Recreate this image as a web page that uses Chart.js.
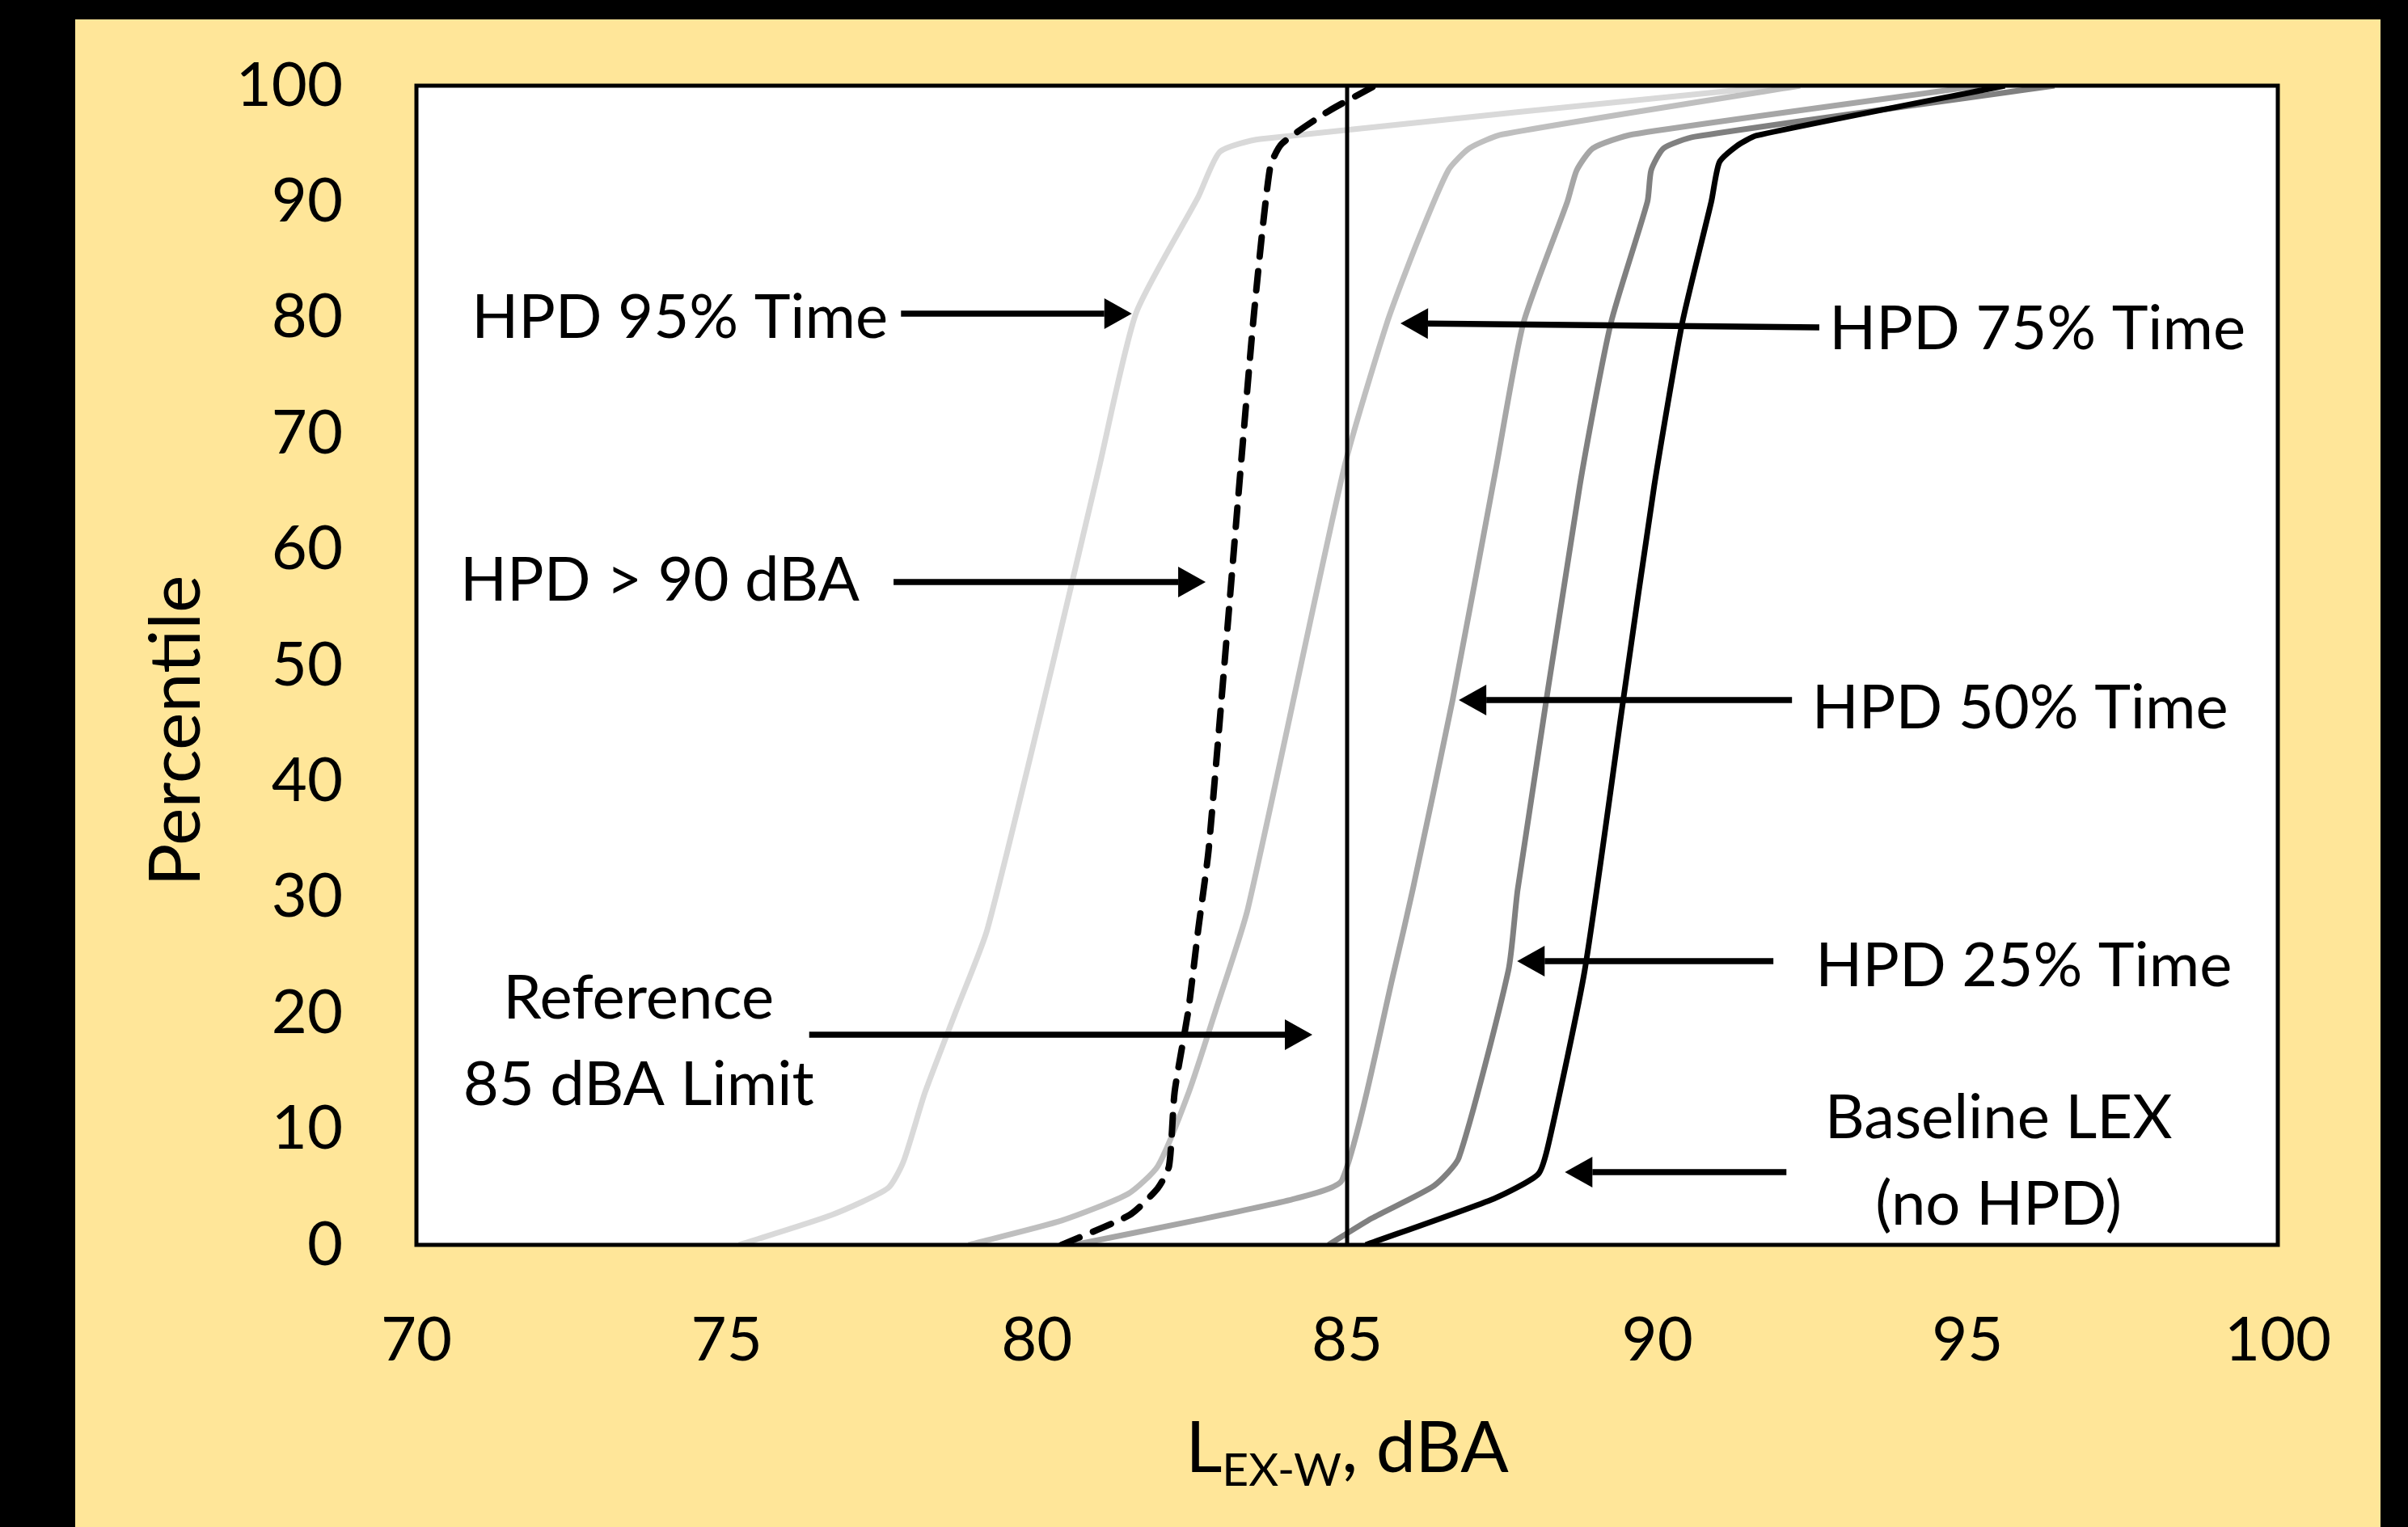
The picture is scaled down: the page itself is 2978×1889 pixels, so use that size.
<!DOCTYPE html>
<html>
<head>
<meta charset="utf-8">
<title>LEX-W percentiles with and without HPD</title>
<script src="https://cdn.jsdelivr.net/npm/chart.js@4.4.1/dist/chart.umd.min.js"></script>
<style>
  html, body { margin: 0; padding: 0; background: #000; }
  canvas { display: block; }
</style>
</head>
<body>
<canvas id="myChart" width="2978" height="1889"></canvas>
<script>
'use strict';

// data (x = LEX-W in dBA, y = percentile)

var xTicks = [70, 75, 80, 85, 90, 95, 100];
var yTicks = [0, 10, 20, 30, 40, 50, 60, 70, 80, 90, 100];

var refLimitX = [85, 85];
var refLimitY = [0, 100];

var baselineX = [85.3, 87.37, 88.08, 88.25, 88.83, 89.45, 89.95, 90.4, 90.87, 91.0, 91.28, 91.6, 95.6];
var baselineY = [0, 4.0, 6.1, 8.8, 23.7, 47, 65.5, 79.5, 90.0, 93.4, 94.8, 95.7, 100];

var hpd25X = [84.7, 85.4, 86.4, 86.8, 87.6, 87.75, 88.75, 89.25, 89.84, 89.9, 90.1, 90.6, 96.4];
var hpd25Y = [0, 2.3, 5.1, 7.5, 23.7, 30.7, 65.5, 79.5, 90.0, 92.7, 94.6, 95.6, 100];

var hpd50X = [80.6, 82.55, 84.17, 84.92, 85.76, 86.06, 86.7, 87.4, 87.84, 88.55, 88.7, 88.96, 89.6, 95.2];
var hpd50Y = [0, 2.1, 4.0, 5.6, 23.7, 30.7, 47, 67, 79.5, 90.0, 92.7, 94.6, 95.8, 100];

var hpd75X = [78.9, 80.4, 81.47, 81.95, 82.45, 82.88, 83.4, 84.95, 85.64, 86.13, 86.63, 86.97, 87.5, 92.3];
var hpd75Y = [0, 2.1, 4.4, 6.8, 13.2, 20.2, 29, 67, 79.5, 86.5, 92.7, 94.6, 95.8, 100];

var hpd95X = [75.2, 76.7, 77.6, 77.85, 78.2, 78.7, 79.2, 80.25, 81.0, 81.6, 82.6, 82.95, 83.6, 92.0];
var hpd95Y = [0, 2.6, 4.9, 7.2, 13.2, 20.2, 27.2, 50, 67, 80.4, 90.4, 94.3, 95.4, 100];

var over90X = [80.4, 81.5, 81.95, 82.13, 82.22, 82.44, 82.6, 82.77, 83.3, 83.5, 83.76, 83.95, 84.7, 85.45];
var over90Y = [0, 2.6, 4.9, 6.8, 13.2, 20.2, 27.2, 34.2, 68, 80.4, 93.0, 95.0, 97.8, 100];

// callouts (positions in axis units)
var notes = [
  { lines: ['HPD 95% Time'], x: 77.6, y: 78.24, align: 'right', from: [77.81, 80.33], to: [81.53, 80.33] },
  { lines: ['HPD > 90 dBA'], x: 77.14, y: 55.58, align: 'right', from: [77.69, 57.18], to: [82.72, 57.18] },
  { lines: ['Reference', '85 dBA Limit'], x: 73.58, y: 19.53, align: 'center', from: [76.33, 18.13], to: [84.44, 18.13] },
  { lines: ['HPD 75% Time'], x: 92.77, y: 77.27, align: 'left', from: [92.61, 79.15], to: [85.86, 79.5] },
  { lines: ['HPD 50% Time'], x: 92.49, y: 44.56, align: 'left', from: [92.17, 47.0], to: [86.8, 47.0] },
  { lines: ['HPD 25% Time'], x: 92.55, y: 22.32, align: 'left', from: [91.87, 24.48], to: [87.74, 24.48] },
  { lines: ['Baseline LEX', '(no HPD)'], x: 95.5, y: 9.2, align: 'center', from: [92.08, 6.28], to: [88.51, 6.28] }
];

var FONT = 'Lato';

function toPoints(xs, ys) {
  var pts = [];
  for (var i = 0; i < xs.length; i++) {
    pts.push({ x: xs[i], y: ys[i] });
  }
  return pts;
}

function curve(label, xs, ys, color, width, dash) {
  return {
    label: label,
    data: toPoints(xs, ys),
    showLine: true,
    borderColor: color,
    borderWidth: width,
    borderDash: dash || [],
    borderCapStyle: dash ? 'round' : 'butt',
    borderJoinStyle: 'round',
    tension: 0.2,
    pointRadius: 0,
    pointHoverRadius: 0
  };
}

// background, yellow panel and white plot area
var panelPlugin = {
  id: 'panel',
  beforeDraw: function(chart) {
    var c = chart.ctx;
    var a = chart.chartArea;
    c.save();
    c.fillStyle = '#000';
    c.fillRect(0, 0, chart.width, chart.height);
    c.fillStyle = '#ffe699';
    c.fillRect(93, 24, 2851, chart.height - 24);
    c.fillStyle = '#fff';
    c.fillRect(a.left, a.top, a.right - a.left, a.bottom - a.top);
    c.restore();
  }
};

function drawArrow(c, x1, y1, x2, y2) {
  var ang = Math.atan2(y2 - y1, x2 - x1);
  var head = 34;
  var half = 19;
  var bx = x2 - head * Math.cos(ang);
  var by = y2 - head * Math.sin(ang);
  c.beginPath();
  c.moveTo(x1, y1);
  c.lineTo(bx, by);
  c.lineWidth = 7.5;
  c.stroke();
  c.beginPath();
  c.moveTo(x2, y2);
  c.lineTo(bx + half * Math.sin(ang), by - half * Math.cos(ang));
  c.lineTo(bx - half * Math.sin(ang), by + half * Math.cos(ang));
  c.closePath();
  c.fill();
}

// frame on top of the curves, then the callouts
var calloutPlugin = {
  id: 'callouts',
  afterDatasetsDraw: function(chart) {
    var c = chart.ctx;
    var a = chart.chartArea;
    var xs = chart.scales.x;
    var ys = chart.scales.y;
    c.save();
    c.strokeStyle = '#000';
    c.lineWidth = 5;
    c.strokeRect(a.left, a.top, a.right - a.left, a.bottom - a.top);

    c.fillStyle = '#000';
    c.font = '76px ' + FONT;
    c.textBaseline = 'alphabetic';
    notes.forEach(function(n) {
      c.textAlign = n.align;
      var px = xs.getPixelForValue(n.x);
      var py = ys.getPixelForValue(n.y);
      for (var i = 0; i < n.lines.length; i++) {
        c.fillText(n.lines[i], px, py + i * 107);
      }
      drawArrow(c,
        xs.getPixelForValue(n.from[0]), ys.getPixelForValue(n.from[1]),
        xs.getPixelForValue(n.to[0]), ys.getPixelForValue(n.to[1]));
    });
    c.restore();
  },
  afterDraw: function(chart) {
    var c = chart.ctx;
    var a = chart.chartArea;
    c.save();
    c.fillStyle = '#000';
    c.textBaseline = 'alphabetic';

    // y title
    c.translate(247, 904);
    c.rotate(-Math.PI / 2);
    c.textAlign = 'center';
    c.font = '88px ' + FONT;
    c.fillText('Percentile', 0, 0);
    c.setTransform(1, 0, 0, 1, 0, 0);

    // x title with subscript
    var big = '88px ' + FONT;
    var small = '57px ' + FONT;
    c.font = big;
    var wL = c.measureText('L').width;
    var wRest = c.measureText(', dBA').width;
    c.font = small;
    var wSub = c.measureText('EX-W').width;
    var x0 = (a.left + a.right) / 2 - (wL + wSub + wRest) / 2;
    var base = 1821;
    c.textAlign = 'left';
    c.font = big;
    c.fillText('L', x0, base);
    c.font = small;
    c.fillText('EX-W', x0 + wL, base + 17);
    c.font = big;
    c.fillText(', dBA', x0 + wL + wSub, base);
    c.restore();
  }
};

var ctx = document.getElementById('myChart').getContext('2d');

var chart = new Chart(ctx, {
  type: 'scatter',
  data: {
    datasets: [
      curve('Baseline LEX (no HPD)', baselineX, baselineY, '#000000', 7),
      curve('HPD > 90 dBA', over90X, over90Y, '#000000', 8, [24, 18]),
      curve('Reference 85 dBA Limit', refLimitX, refLimitY, '#000000', 5),
      curve('HPD 25% Time', hpd25X, hpd25Y, '#808080', 7),
      curve('HPD 50% Time', hpd50X, hpd50Y, '#a6a6a6', 7),
      curve('HPD 75% Time', hpd75X, hpd75Y, '#bfbfbf', 7),
      curve('HPD 95% Time', hpd95X, hpd95Y, '#d9d9d9', 7)
    ]
  },
  options: {
    responsive: false,
    animation: false,
    events: [],
    layout: { padding: { left: 0, top: 106, right: 161, bottom: 0 } },
    scales: {
      x: {
        type: 'linear',
        min: 70,
        max: 100,
        grid: { display: false },
        border: { display: false },
        ticks: { color: '#000', font: { family: FONT, size: 76 }, padding: 65, maxRotation: 0 },
        afterBuildTicks: function(scale) {
          scale.ticks = xTicks.map(function(v) { return { value: v }; });
        },
        afterFit: function(scale) { scale.height = 349; }
      },
      y: {
        type: 'linear',
        min: 0,
        max: 100,
        grid: { display: false },
        border: { display: false },
        ticks: { color: '#000', font: { family: FONT, size: 76 }, padding: 83 },
        afterBuildTicks: function(scale) {
          scale.ticks = yTicks.map(function(v) { return { value: v }; });
        },
        afterFit: function(scale) {
          scale.width = 515;
          scale.paddingTop = 0;
          scale.paddingBottom = 0;
        }
      }
    },
    plugins: {
      legend: { display: false },
      tooltip: { enabled: false }
    }
  },
  plugins: [panelPlugin, calloutPlugin]
});
</script>
</body>
</html>
